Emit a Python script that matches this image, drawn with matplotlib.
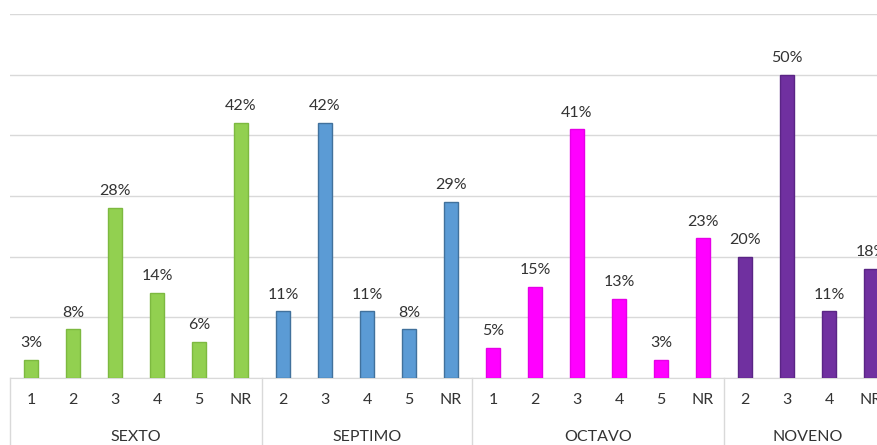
import matplotlib
matplotlib.use("Agg")
import matplotlib.pyplot as plt
from matplotlib.transforms import blended_transform_factory

plt.rcParams["font.family"] = ["Lato", "DejaVu Sans"]

groups = ["SEXTO", "SEPTIMO", "OCTAVO", "NOVENO"]
sexto_cats = ["1", "2", "3", "4", "5", "NR"]
sexto_vals = [3, 8, 28, 14, 6, 42]
septimo_cats = ["2", "3", "4", "5", "NR"]
septimo_vals = [11, 42, 11, 8, 29]
octavo_cats = ["1", "2", "3", "4", "5", "NR"]
octavo_vals = [5, 15, 41, 13, 3, 23]
noveno_cats = ["2", "3", "4", "NR"]
noveno_vals = [20, 50, 11, 18]

face_colors = ["#92D050", "#5B9BD5", "#FF00FF", "#7030A0"]
edge_colors = ["#7DB940", "#41719C", "#E600E6", "#5A2585"]

W, H = 877, 445
fig = plt.figure(figsize=(W / 100, H / 100), dpi=100)
# plot area: baseline at y=378 px, 60% line at y=14 px, starts at x=10, 42 px per category
ax = fig.add_axes([10 / W, (H - 378) / H, 21 * 42 / W, (378 - 14) / H])

text_col = "#333333"
grid_col = "#D9D9D9"
fs = 11.5

all_cats = [sexto_cats, septimo_cats, octavo_cats, noveno_cats]
all_vals = [sexto_vals, septimo_vals, octavo_vals, noveno_vals]

trans = blended_transform_factory(ax.transData, ax.transAxes)
start = 0
ticks, tick_labels = [], []
bounds = [0]
for g, cats, vals, fc, ec in zip(groups, all_cats, all_vals, face_colors, edge_colors):
    xs = [start + i for i in range(len(cats))]
    ax.bar(xs, vals, width=0.31, color=fc, edgecolor=ec, linewidth=1, zorder=3)
    for x, v in zip(xs, vals):
        ax.annotate(f"{v}%", (x, v), xytext=(0, 7), textcoords="offset points",
                    ha="center", va="bottom", fontsize=fs, color=text_col)
    ticks += xs
    tick_labels += cats
    mid = start + (len(cats) - 1) / 2
    ax.text(mid, -0.163, g, transform=trans, ha="center", va="center",
            fontsize=fs, color=text_col, clip_on=False)
    start += len(cats)
    bounds.append(start)

# group separators below the axis
for b in bounds:
    ax.plot([b - 0.5, b - 0.5], [0, -0.2], transform=trans, color=grid_col,
            lw=1, clip_on=False)

ax.set_xlim(-0.5, start - 0.5)
ax.set_ylim(0, 60)
ax.set_yticks(range(0, 61, 10))
ax.yaxis.grid(True, color=grid_col, lw=1, zorder=0)
ax.set_xticks(ticks)
ax.set_xticklabels(tick_labels, fontsize=fs, color=text_col)
ax.tick_params(axis="x", length=0, pad=11)
ax.tick_params(axis="y", length=0, labelleft=False)
for side in ["top", "right", "left"]:
    ax.spines[side].set_visible(False)
ax.spines["bottom"].set_color(grid_col)

fig.savefig("out.png", dpi=100)
